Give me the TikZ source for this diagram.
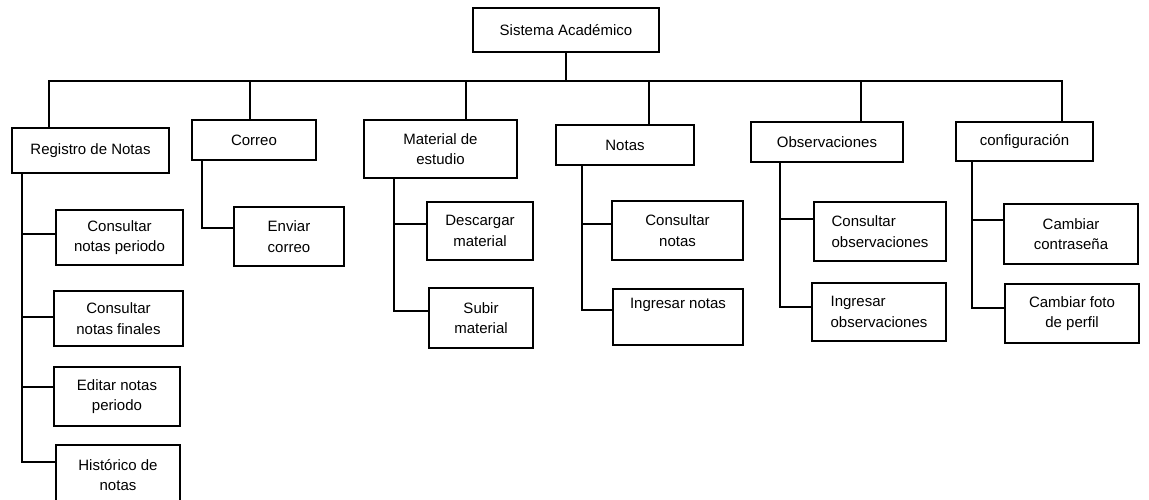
\documentclass[tikz,border=0pt]{standalone}
\usepackage{fontspec}
\setmainfont{Liberation Sans}
\begin{document}
\begin{tikzpicture}[x=1pt,y=-1pt,
  box/.style={draw, line width=2pt, anchor=north west, inner sep=0pt, align=center,
    font=\fontsize{15}{20.5}\selectfont},
  link/.style={line width=2pt}]
\useasboundingbox (0,0) rectangle (1149,500);
% root
\node[box, minimum width=186pt, minimum height=44pt] (root) at (472,7) {Sistema Académico};
% level 1
\node[box, minimum width=157pt, minimum height=45pt] (r1) at (11,127) {Registro de Notas};
\node[box, minimum width=124pt, minimum height=40pt] (r2) at (191,119) {Correo};
\node[box, minimum width=153pt, minimum height=58pt] (r3) at (363,119) {Material de\\estudio};
\node[box, minimum width=138pt, minimum height=40pt] (r4) at (555,124) {Notas};
\node[box, minimum width=152pt, minimum height=40pt] (r5) at (750,121) {Observaciones};
\node[box, minimum width=137pt, minimum height=39pt] (r6) at (955,121) {configuración};
% level 2
\node[box, minimum width=127pt, minimum height=55pt] (c11) at (55,209) {Consultar\\notas periodo};
\node[box, minimum width=129pt, minimum height=55pt] (c12) at (53,290) {Consultar\\notas finales};
\node[box, minimum width=126pt, minimum height=59pt] (c13) at (53,366) {Editar notas\\periodo};
\node[box, minimum width=124pt, minimum height=60pt] (c14) at (55,444) {Histórico de\\notas};
\node[box, minimum width=110pt, minimum height=59pt] (c21) at (233,206) {Enviar\\correo};
\node[box, minimum width=106pt, minimum height=58pt] (c31) at (426,201) {Descargar\\material};
\node[box, minimum width=104pt, minimum height=60pt] (c32) at (428,287) {Subir\\material};
\node[box, minimum width=131pt, minimum height=59pt] (c41) at (611,200) {Consultar\\notas};
\node[box, minimum width=130pt, minimum height=56pt] (c42) at (612,288) {Ingresar notas\\\strut};
\node[box, minimum width=132pt, minimum height=59pt, align=left] (c51) at (813,201) {Consultar\\observaciones};
\node[box, minimum width=134pt, minimum height=58pt, align=left] (c52) at (811,282) {Ingresar\\observaciones};
\node[box, minimum width=134pt, minimum height=60pt] (c61) at (1003,203) {Cambiar\\contraseña};
\node[box, minimum width=134pt, minimum height=59pt] (c62) at (1004,283) {Cambiar foto\\de perfil};
% bus
\coordinate (busL) at (49,81);
\coordinate (busR) at (1062,81);
\draw[link] (root.south) -- (root.south |- busL);
\draw[link, line cap=rect] (busL) -- (busR);
\foreach \x/\n in {49/r1,250/r2,466/r3,649/r4,861/r5,1062/r6}{
  \coordinate (s\n) at (\x,81);
  \draw[link] (s\n) -- (s\n |- \n.north);
}
% trunks and junctions
\coordinate (j11) at (22,234);
\coordinate (j12) at (22,317);
\coordinate (j13) at (22,387);
\coordinate (j14) at (22,462);
\draw[link] (j14 |- r1.south) -- (j14) -- (j14 -| c14.west);
\draw[link] (j11) -- (j11 -| c11.west);
\draw[link] (j12) -- (j12 -| c12.west);
\draw[link] (j13) -- (j13 -| c13.west);

\coordinate (j21) at (202,228);
\draw[link] (j21 |- r2.south) -- (j21) -- (j21 -| c21.west);

\coordinate (j31) at (394,224);
\coordinate (j32) at (394,311);
\draw[link] (j32 |- r3.south) -- (j32) -- (j32 -| c32.west);
\draw[link] (j31) -- (j31 -| c31.west);

\coordinate (j41) at (582,224);
\coordinate (j42) at (582,310);
\draw[link] (j42 |- r4.south) -- (j42) -- (j42 -| c42.west);
\draw[link] (j41) -- (j41 -| c41.west);

\coordinate (j51) at (780,219);
\coordinate (j52) at (780,307);
\draw[link] (j52 |- r5.south) -- (j52) -- (j52 -| c52.west);
\draw[link] (j51) -- (j51 -| c51.west);

\coordinate (j61) at (972,220);
\coordinate (j62) at (972,308);
\draw[link] (j62 |- r6.south) -- (j62) -- (j62 -| c62.west);
\draw[link] (j61) -- (j61 -| c61.west);
\end{tikzpicture}
\end{document}
